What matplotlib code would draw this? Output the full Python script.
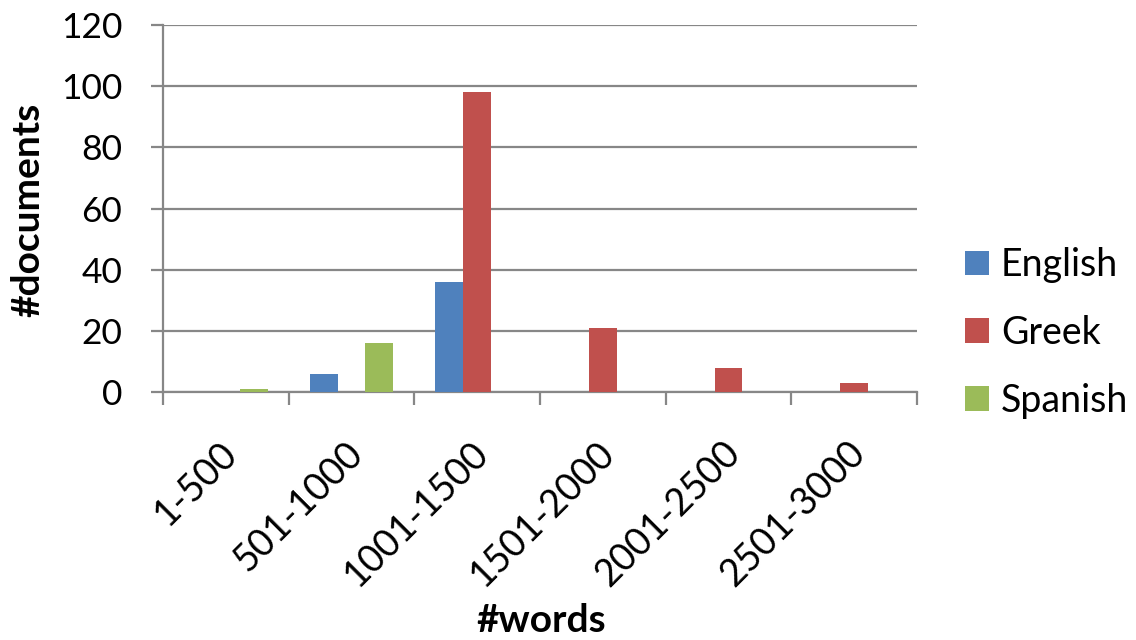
import matplotlib
matplotlib.use("Agg")
import matplotlib.pyplot as plt
import matplotlib.transforms as mtransforms
import numpy as np
from matplotlib.patches import Patch

plt.rcParams['font.family'] = ['Lato', 'DejaVu Sans']

categories = ["1-500", "501-1000", "1001-1500", "1501-2000", "2001-2500", "2501-3000"]
series_names = ["English", "Greek", "Spanish"]
english = [0, 6, 36, 0, 0, 0]
greek = [0, 0, 98, 21, 8, 3]
spanish = [1, 16, 0, 0, 0, 0]
colors = ["#4F81BD", "#C0504D", "#9BBB59"]

fig = plt.figure(figsize=(11.36, 6.4), dpi=100)
ax = fig.add_axes([163/1136, 1 - 392/640, (917-163)/1136, (392-25)/640])

x = np.arange(len(categories))
w = 1 / 4.5
for i, (vals, c) in enumerate(zip([english, greek, spanish], colors)):
    ax.bar(x + (i - 1) * w, vals, width=w, color=c, zorder=3, linewidth=0)

grid_c = "#878787"
ax.set_xlim(-0.5, len(categories) - 0.5)
ax.set_ylim(0, 120)
ax.set_yticks(np.arange(0, 121, 20))
ax.yaxis.grid(True, color=grid_c, linewidth=1.6, zorder=0)
ax.set_axisbelow(True)

for s in ["top", "right"]:
    ax.spines[s].set_visible(False)
for s in ["left", "bottom"]:
    ax.spines[s].set_color(grid_c)
    ax.spines[s].set_linewidth(1.6)

# category boundary ticks, labels centred on each category
ax.set_xticks(np.arange(-0.5, len(categories) + 0.5, 1))
ax.set_xticklabels([])
ax.set_xticks(x, minor=True)
ax.set_xticklabels(categories, minor=True, rotation=45, ha="right",
                   rotation_mode="anchor", fontsize=27)
ax.tick_params(axis="x", which="major", direction="out", length=9.5,
               width=1.6, color=grid_c)
ax.tick_params(axis="x", which="minor", length=0, pad=28)
ax.tick_params(axis="y", direction="out", length=8.5, width=1.6, color=grid_c,
               labelsize=25.5, pad=21)

shift = mtransforms.ScaledTranslation(-7 / 100, -4 / 100, fig.dpi_scale_trans)
for lbl in ax.get_xticklabels(minor=True):
    lbl.set_transform(lbl.get_transform() + shift)

fig.text(28/1136, 1 - 210/640, "#documents", fontsize=28, fontweight="bold",
         rotation=90, ha="center", va="center")
fig.text(541/1136, 1 - 620/640, "#words", fontsize=28, fontweight="bold",
         ha="center", va="center")

handles = [Patch(facecolor=c, edgecolor="none") for c in colors]
leg = fig.legend(handles, series_names, loc="center left",
                 bbox_to_anchor=(965/1136, 1 - 333/640), frameon=False,
                 fontsize=27, handlelength=0.64, handleheight=0.64,
                 handletextpad=0.32, labelspacing=0.85, borderpad=0,
                 borderaxespad=0)

fig.savefig("out.png", dpi=100)
